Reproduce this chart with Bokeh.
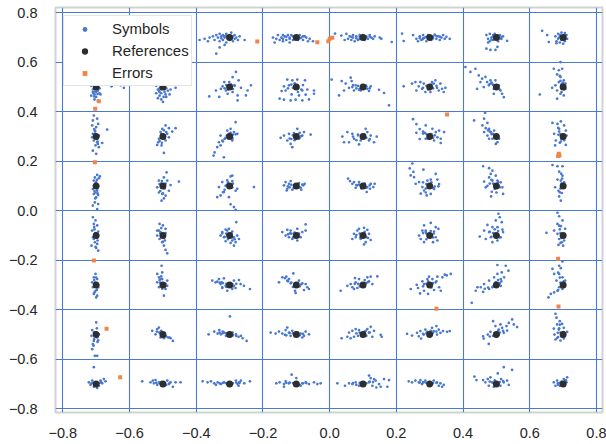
from bokeh.plotting import figure
from bokeh.models import (ColumnDataSource, FixedTicker, CustomJSTickFormatter,
                          Legend, LegendItem, Range1d)
from bokeh.embed import file_html
from bokeh.resources import INLINE

# reference constellation levels (64-QAM)
levels = [-0.7, -0.5, -0.3, -0.1, 0.1, 0.3, 0.5, 0.7]
tick_values = [-0.8, -0.6, -0.4, -0.2, 0.0, 0.2, 0.4, 0.6, 0.8]

# received symbols: offsets (in hundredths) from each reference point,
# one string per column (x = -0.7 ... 0.7), one list per row (y = 0.7 ... -0.7)
row_p07 = [
    "-1,2 0,1 -0.5,-1 0.5,-2 0,3 -1,-3 1,0 0,-4",
    "-2,0.5 -1,-1 1,1 2,-0.5 0,-2 -1.5,1.5 1,-1.5 0.5,2",
    "-9,-1 -7.5,-0.5 -6.5,-1.5 -6,0 -5,0.5 -4.5,-1 -4,1 -3.5,0 -3,-1.5 -3,1.5 -2.5,0.5 -2,-1 -2,1 -1.5,0 -1,-2 -1,1.5 0,1 0,-1 1,0.5 1,-1.5 1.5,1 2,0 2.5,-1 3,0.5 4.5,-1 -4,-6.5 -3,-4 -1.5,-3 0.5,2",
    "-7,0 -6,-0.5 -5.5,1 -5,-1 -4.5,0 -4,1 -4,-1.5 -3.5,0.5 -3,-1 -2.5,1 -2,0 -2,-2 -1.5,1 -1,-1 -0.5,0.5 0.5,-1 1,1 1.5,0 2,-1 2.5,0.5 3,0 3.5,-1.5 4,-0.5 5,-1.5 -6.5,-2",
    "-8.4,1.6 -6.5,0.8 -5,1.5 -4.5,-0.5 -4,0.5 -3.5,-1 -3,0 -3,1 -2.5,-1.5 -2,0.5 -1.5,-1 -1,1 -1,-0.5 0,1 0.5,-1 1,0.5 1.5,-0.5 2,1 2.5,0 3,-0.5 5,0 5.5,-0.5 8.6,-1.8 -5.5,-1",
    "-8.3,1.6 -7.8,-1.4 -5,1 -4,-0.5 -3.5,-1.5 -3,0.5 -2.5,-1 -2,1 -1.5,0 -1,-1.5 -0.5,1 0.5,-1 1,0.5 1.5,1.2 2,-0.5 2.5,0.5 3,-1 3.5,0 4,1 4.5,-0.5 5,0.3 6,-0.5 -2,-0.3 0,0.3",
    "-3,1 -2.5,-0.5 -2,1.5 -2,-1.5 -1.5,0 -1,1 -1,-1 -0.5,1.5 0.5,-1.5 1,1 1.5,-0.5 2,0.5 3.2,-1.3 -3,-4.5 -1.8,-5 -0.3,-5 0.3,-3.8 -2.5,-2 0.5,0.8",
    "-6.3,2.7 -4.8,1 -4.3,-1.8 -2.3,0.5 -2,-1.5 -1.5,1.5 -1.5,-0.5 -1,1 -1,-2 -0.5,2 0.5,-1.5 1,1 1.2,-0.5 0.5,1.8 -2,-2.3 0,-2.5",
]
row_p05 = [
    "-1.5,0.5 -1,-1 -1,-2 -0.5,-3 0.5,-1.5 1,-0.5 1,-2.5 -1.5,-3.5 0,-4 -0.5,-5 0.5,-5.5 1.3,-3 0,1.5 -0.5,3 0.5,4 -1,5 4.6,0.3 7.3,0.7 8.3,-0.3 0,-2 -0.8,-2.5",
    "-2,0.5 -1.5,-1 -1,-2 -1,-3.5 -0.5,-1 0.5,-2 1,-0.5 1.5,-1.5 2,-3 -1.5,-4.5 -0.5,-5 0,-6 1,-4 3.8,-0.3 -2,-2.5 0.5,0.5 1.5,1 2.3,-1",
    "1.9,6.1 0.9,4 2.7,2.7 -1.6,2 -2.6,-0.7 -3.1,-4 -6.1,-3.8 5.4,-1.4 6.4,0.7 4.9,-3.4 2.4,-3.4 0.9,-2 -1.1,-1.4 -2.1,0.3 1.4,0.7 -0.6,-2.7 3.4,-0.3 -4.1,-1.4 2.4,-5.4 -0.1,2",
    "-2.7,3 -1.2,2.7 0.3,3 2.6,2.7 -3.7,0.3 -2.2,0.7 -4.4,-1.6 -3.2,-1.4 1.8,-1.4 3.3,-1 5.3,-1.4 5.3,-2.7 -5,-4.7 -3.7,-5.1 -1.7,-5.4 -0.2,-5.1 1.8,-5.4 3.8,-5 -1.4,-3 0.8,-3.4 2.8,-3.1 -1,-0.3",
    "-9.4,3 -6.4,2.4 -5.2,1.4 -3.7,3.8 -3.4,2.4 -5.7,-1.4 -7.2,-3.4 -4.2,-0.3 -2.7,-1.4 -2.2,0.7 -1.2,-1.1 1.3,-0.7 2.3,0.3 1.8,-1.6 4.8,-1.1 6.3,-2.4 7.8,-7.4 -3.2,0 -0.7,-1.4 0.8,0.7",
    "-7.8,0.3 -5.3,1.4 -4.3,2 -4,-1.4 -2.8,2 -2.3,-0.7 -1.8,1.4 -1.3,-2 1.2,1.4 1.7,2.7 2.2,-0.3 2.7,-1.4 3.2,1.4 3.7,-0.7 4.7,-0.3 0.2,-2 -3.3,0.3 0.7,2 4.2,-2",
    "-9.3,8.1 -7.8,6.1 -6.3,7.4 -5.3,4.7 -4.3,3.4 -4.8,2 -3.3,4.1 -2.8,2 -2.3,0.7 -1.8,2.7 -1.3,1.4 -0.8,-0.7 0.7,0.7 1.2,-1.4 1.7,-2.7 2.2,-4.1 -5.8,-0.7 -0.8,-2.7 -3.8,0 -0.3,2.7",
    "-0.8,10.1 -2.8,7.4 -1.3,6.8 -0.3,7.4 -1.8,5.1 -0.8,4.1 0.2,2.7 -1.3,2 -2.3,0.7 -3.3,-0.3 0.7,-0.7 -1.8,-1.4 -0.8,-2.7 0.2,-3.4 -1.8,-4.7 -7,-3 -0.3,1.4 0.7,1.4",
]
row_p03 = [
    "-0.7,8.5 -1,6.5 0.3,7.2 -1.2,4.5 0,3.8 -0.4,2.4 -1,1.1 0.8,0.4 -0.7,-1.6 0.3,-2.3 -0.2,-3.6 0.8,-4.3 -1,-5.7 0,-7 3.3,2.8 1.8,-2.6 -1.2,-0.3 0.6,5.1",
    "0.8,4.5 -0.2,3.1 1.8,3.4 2.8,2 3.8,3.4 -0.7,1.8 1.3,1.1 -1.2,-0.9 0.8,-1.6 -1.7,-3.4 -0.4,-3.6 0.3,-6.6 -1.4,-2.3 1.8,-0.3",
    "1.8,5.8 0.3,3.1 -0.7,2.4 1.3,1.8 2.3,1.1 -1.2,-0.5 -2.2,-1.6 -3.2,-2.3 -2.7,-3.6 -3.7,-4.3 -4.5,-6.4 -1.7,-8.4 0.8,-1.6 -0.2,1.1 -2.7,0.4 -4.8,-7.7 1.8,0.9 0.8,-0.9",
    "-4.7,-0.5 -3.7,0.4 -2.7,-1.6 -1.7,-3 -1.2,-4.3 0.8,-0.9 1.8,0.4 2.3,1.8 4.3,0.8 -0.7,1.4 -2.2,1.1 -1.5,-1 1,1.5 0.3,3.1",
    "-6.2,0 -5.7,-2.3 -4.2,-2.3 -4.7,1.8 -3.2,1.1 -2.7,-0.9 -1.2,-3.2 1.3,1.8 2.3,0.4 3.3,-2.3 1.8,-1.6 -0.7,-1.6 4.1,0 0.8,3.1 -1.5,0.8",
    "-1.2,4.5 0.8,3.1 1.8,1.8 2.8,2.4 4.3,1.8 2.3,-0.3 3.3,-0.9 1.3,-1.6 3.3,-2.6 -1.2,-0.9 -5,7 -4,5 -3,3 -2,2 -3,-1 -4,1.5 -1.5,1.5",
    "-3.4,9.6 -6.7,6.5 -3.7,7.2 -2.7,5.5 -4.2,4.5 -3.2,3.4 -2.2,3.1 -1.7,1.8 -1.2,1.1 -0.7,2.4 -2.7,0.4 -1.2,-0.9 0.3,-2.3 -0.2,-3 0.8,-0.9 -3.7,1.8 -2.2,-0.9",
    "-3.2,5.5 -1.7,5.1 -0.7,6.1 0.3,4.5 -1.2,3.1 0.8,2.4 -2.7,1.1 -1.4,0.7 1,0.4 -2.2,-1.6 -0.7,-2 -2.4,-3.6 0.8,-3.4 -0.2,-0.9",
]
row_p01 = [
    "0.3,4.5 -0.4,3.5 0.8,3.1 -0.7,2.2 0,1.5 -1,-1.2 0.3,-1.9 -0.7,-3.2 0,-4.6 -0.4,-6.6 0.6,-7.3 -1,-7.9 0.3,-9.3 -0.2,-2.6 0.6,-3.6 -0.7,0.1 1.1,3.9",
    "1.1,5.5 0.3,3.5 -1.2,2.2 1.3,2.2 2.3,0.4 4.8,1.8 -1.7,-0.5 -1.2,-2.6 -0.2,-3.2 0.8,-3.9 -0.4,-5.9 0.3,-5 1.8,-1.9 -1,0.8",
    "0.3,3.9 -0.7,2.3 -2.2,1.6 -3.2,-0.4 -1.7,-2.4 -2.7,-3.8 -3.7,-4.5 -0.2,-4.5 2.3,-1.1 0.3,-7.4 1.3,-8.5 1.8,-9.6 7.3,-0.4 0.8,2 -1.2,0.1 1.8,-1.9 0.8,4.2",
    "-3.7,0.3 -3.2,1.6 -2.7,-1.1 -2.2,0.9 -1.7,2 -1.2,-1.5 0.8,1.2 1.3,-0.7 2.1,0.3 2.5,0.9 -0.7,0.3 -2.5,-0.1 1.5,-1.5 -2.9,-1.8",
    "-4.5,3 -3.9,2 -3.2,0.9 -2.7,1.6 -1.7,0.3 -2.2,-0.7 1.1,-2.4 2.3,0.9 3.1,-0.4 3.5,0.9 2.1,-1.1 -1.2,1.6 1.3,-0.4",
    "1.8,4.9 0.3,2.6 2.3,2.6 2.8,0.8 2.6,-0.1 1.3,-1.2 0.3,-3.2 -1.2,-2.6 -0.7,2.2 -5.2,9.1 -6,7.1 -4.9,5.7 -5.7,4.3 -1.9,6.6 -4.2,0.9 -3.2,1.6 -2.2,-0.4 -1.7,-1.8 -2.7,-3.1 -0.9,-3.8 -4.7,3.6",
    "-4,8 -2.2,7.2 -1.2,6.2 -1.7,4.9 -2.2,3.5 -0.2,4.2 -3.7,1.8 -2.7,0.1 -1.2,2.2 1.3,1.5 1.8,-0.5 -1.4,-2.3 0,-2.6 2,-3.2 -1.6,-4.2 -3.2,-0.5 0.3,2.2",
    "-3.2,8.5 -1.7,8 -0.2,8 -1.2,5.8 -0.2,4.2 -1.7,2.6 -0.7,2.2 -2.4,-0.5 -1.4,-1.9 -0.4,-2.8 -1.2,-4.2 -0.7,-5.9 0.3,1.5",
]
row_m01 = [
    "-1,7.4 -0.2,6.1 -0.7,4.7 0.3,4.1 -1.2,2 0.6,1.6 -0.7,-1.4 -1.4,-4.1 0.3,-3.4 -0.2,-4.6 0.6,-6.1 -0.4,-2.7 -1,-0.7",
    "-1,4.7 0,4.1 -1.7,2 -1.7,0 -1,-1.4 -0.2,-2.7 0.6,-2 0.3,-4.1 0.8,-5.8 1.3,-7.2 -0.7,1.4 0.8,2.7",
    "-2.2,1.4 -1.2,2.4 -0.2,2.7 0.8,1.6 -1.7,-0.7 1.3,-0.7 0.8,-2 1.8,-2.7 0.3,-3 -2.7,0 2,5.4 -0.7,2 -2.2,0.9 -1.2,-2.3 1.3,-4.1 2.8,-1.4 2.3,0",
    "-4.2,1.4 -2.7,2.3 -1.7,2 -3.2,0 -2.2,-0.7 -1.2,-1.4 0.3,-2 1.3,-0.7 1.8,1.4 2.8,2 2.8,4.5 0.3,2.7 -0.7,0.7 -1.9,0.9",
    "-2.7,0.7 -1.7,2 -1.2,2.7 0.3,3.1 1.3,2.3 1.8,0.7 2.3,-1.8 0.8,-2.7 0.3,-3.6 -2.2,-0.7 -3.2,-1.4 -0.7,-1.4",
    "0.3,5.1 1.8,3.4 2.6,2.7 1.3,1.6 1.8,-0.7 2.3,-2 1,-2.7 -1.2,1.4 -1.7,4.1 -2.2,2 -2.7,-1.4 -1.7,-2.7 -1.2,2 -3.2,0",
    "0.6,8.8 1,7.4 -0.2,6.1 1.6,5.4 -2.7,4.3 -1.2,3.4 0.3,3.4 1.8,2.4 -3.7,2 -2.2,1.4 -1.7,-0.7 -3.2,-1.4 -5,-0.4 -1.2,-2.7 0.3,-2 1.3,-0.7 2,1.4 -0.7,0.7",
    "-1.7,9.2 -1.2,7.8 -0.2,6.1 -1.7,4.7 -0.7,3.8 -2.7,2 -5,1.1 -1.7,0.7 -1.2,-1.4 -0.4,-2.7 -1.4,-3.8 0,-4.1 0.6,2.7",
]
row_m03 = [
    "-0.2,4.5 -0.7,3.1 0.3,2.4 -1.2,1.1 -1,-0.9 -0.2,-2.3 -0.7,-3.6 0.3,-4.3 0,-5 0.6,-0.9",
    "-0.4,7.8 -0.2,5.1 -1.7,4.5 -1.2,3.1 -0.2,2.4 1.3,1.8 -1.7,1.1 -1.2,-0.9 0.8,-1.6 1.3,-0.3 0.3,-4.3 -0.7,2.4",
    "-5.2,1.8 -4.2,1.1 -3.2,2.4 -2.4,1.1 -1.7,2.7 -1.2,-0.3 -2.2,-0.9 -2.7,0.4 -0.7,-2.3 0.8,-1.6 1.3,-0.3 -3.7,1.4 1.3,1.8 2.8,2 3.3,0.4 4.3,-0.3 6.1,-1.6 1.8,-1.2 -2.2,-1.2 0.8,0.4",
    "-4.2,3.1 -3,3.4 -0.9,4.7 -5.2,1.1 -2.7,1.8 -1.7,0.7 0.8,1.8 1.8,0.7 2.8,0.4 3.3,-0.9 3.8,-1.6 2.3,-2 -0.4,-2.3 -0.2,-3.2 -2.2,2.4 -3.4,2.8",
    "-6.7,-2.3 -4.7,-0.3 -3.7,0.4 -3.2,-0.9 -2.4,2.8 -2.2,1.1 -1.2,2.4 1.3,3.1 1.8,1.5 2.8,0.4 4.3,3.5 2.3,3.4 -1.7,-1.2 -2.7,-1.6 -0.7,0.4",
    "-5.7,-1.6 -3.9,0.1 -3.5,-1.2 -2.9,-3.4 -2.2,1.5 -1.7,0.4 -0.7,2.4 -0.2,3.4 0.8,2.4 1.8,1.1 2.3,3.4 3.8,3.1 4.5,4.2 5.1,3.9 6.3,4.5 2.8,-0.9 3.3,-2.3 1.3,-2 -0.5,-3.6 -1.7,-2.3",
    "0.3,8.1 2.8,7.8 3.6,5.8 1.6,5.1 0.3,4.5 -0.7,3.1 1.3,2.4 2.3,3.1 -2.2,1.8 -3.7,0.4 -4.7,-0.9 -5.7,-0.9 -6.2,-2.3 -4,-2.8 -2.2,-1.6 -1.2,-0.9 1.3,-0.3 -7.4,-7.2 -0.2,1.1",
    "-0.2,9.5 -1.2,7.8 -0.7,6.8 -3.2,6.5 -2.7,4.5 -1.2,4.5 -0.2,3.1 -2,1.8 0.6,1.8 -1.2,-0.9 -1.7,-2.3 -2.7,-3 -3.7,-3.6 -4.4,-5 -0.2,-1.6 0.3,0.4",
]
row_m05 = [
    "0,4.9 -1.2,1.8 -0.7,0.8 -1.4,-0.5 0.3,-1.2 -0.7,-2.6 0.6,-2.3 -1,-3.9 -1.2,-5.9 -0.4,-8.6 0.3,-8.6 0.8,0.1",
    "-3.2,1.5 -1.7,2.2 -1,0.8 -2.2,0.1 -0.7,-1.2 0.8,-0.5 1.6,-1.2 2.3,-1.5 3,-2.6 -1.2,2.8 0.3,-1.5",
    "0.1,7.3 -6.3,0.1 -4.6,1.2 -3.6,0.4 -2.6,0.1 -2.1,1.2 -1.1,-0.5 0.9,0.8 1.9,0.1 2.7,-0.9 3.4,-0.5 3.9,-1.5 5.1,-2.6 -3.1,1.8 -1.6,0.8",
    "-7.7,0.8 -6.2,0.4 -5.2,1.2 -4.2,0.4 -3.2,1.8 -2.7,2.8 -2.2,0.8 -1.2,1.5 1.3,0.4 2.3,-0.5 2.8,1.2 3.8,0.1 1.8,-1.2 -3.4,-0.1 -1.7,-0.5",
    "-6.4,-1.5 -4.7,-0.9 -4.2,0.8 -3.2,1.5 -2.2,2.2 -1.2,1.8 1.3,2.2 2.3,3.1 1.8,0.8 2.8,-0.9 5.3,-0.1 5.6,-0.9 -2.7,-0.9 -3.7,-1.5 0.8,1.5 3.3,1.5",
    "-6.8,0.3 -5.3,-0.4 -3.8,0.7 -2.8,1.4 -2.6,-1.6 -1.8,0 -1.3,2 -0.8,1.1 0.7,2.7 1.2,1.4 2,3.4 2.7,2 3.2,0.7 4,1.4 5.2,1.1 6,1.4 2.2,0 -3.3,-0.7",
    "-4,-0.7 -3.8,-1.6 -2.3,-3.8 -2.6,0 -1.8,1.1 -1,5.4 -0.3,3.4 0.7,2 1.2,4.1 1.7,2.7 2.2,0.7 3,3.4 3.7,4.7 4.7,6.1 5.2,4.1 6.2,3 3.2,1.6 0.7,0",
    "-2.3,8.4 -2,6.8 -1,5.4 -1.8,4.1 -0.3,4.3 -2.8,2.4 -1.3,2 0.2,2.7 1.2,1.1 -2.6,0 -1.8,-1.4 -0.8,-2.4 0.2,-1.6 -2.3,-2 -1.6,0.7",
]
row_m07 = [
    "-0.7,6.8 -2.2,0.7 -1.2,1.4 -1.7,-0.3 1.3,1.4 2.3,2 2.8,1.1 1.8,0.3 -0.7,-1.1 0.8,-0.7 0.3,-1.6",
    "-6.2,1.1 -3.7,0.7 -3,1.4 -2.2,1.6 -1.2,0.7 -1.7,-0.3 1.3,1.4 2.3,0.7 3,-1.1 3.8,0.7 5.3,0.7 1.8,0 -2.7,0.3",
    "-8.1,1.1 -6.6,0.7 -5.6,1.1 -4.6,0.3 -3.6,0.7 -2.6,0 -1.6,0.7 1.9,1.4 2.4,0 2.9,0.7 3.4,1.4 4.4,0.3 6.1,1.1 2.7,-0.7 -4.1,-0.3",
    "-6,0.3 -5,0.7 -3.7,0 -3.2,1.1 -2.2,0.3 -1.4,3.8 0,2.4 1.8,0.3 2.8,0.7 3.8,0 5.3,0.7 6.3,0 7.3,0.3 1.3,-0.7 -3.7,-1.1",
    "-7.7,0.3 -5.4,-0.7 -4.2,0.3 -3.2,0 -2.2,0.7 -1.2,-0.7 1.8,3.4 2.3,2.4 1.8,0.7 3.3,2 3.8,1.4 4.8,0 5.3,-1.1 6.3,2 7.3,-1.1 7.8,1.6 2.8,-0.7 4,-1.4",
    "-6.3,1.1 -5.3,0.7 -4.3,1.4 -3.3,0.7 -2.8,1.6 -1.8,0.7 -1.3,1.4 1.2,1.4 2.2,0.7 3.2,0.3 3.7,-1.1 4.2,-0.3 2.7,-0.7 -2.3,0",
    "-6.6,3 -6,1.6 -4,1.6 -3.3,0.7 -2.6,2 -1.8,2.7 -1.3,0.7 -2.3,-0.7 0.4,4.3 2.2,6.8 4.7,5.7 1.4,2 2.2,0.7 3.2,1.4 3.7,-0.3 1.2,-0.7 -0.8,-1.1",
    "-2.8,0.7 -1.8,1.4 -1,-0.7 -2.3,-0.7 0.2,2 0.7,1.4 1.2,2.7 1,0.7 -1.6,0.3",
]

# dense cores of each cluster, read around the reference dots
core_p07 = ["", "",
    "-1.5,0.5 -0.5,-0.5 0.5,0 1.5,-0.5 -2.5,-0.3 -1,0.8",
    "-3,0.3 -2,-0.5 -1,0.5 1,-0.3 2,0.5 -4,-0.5",
    "-2,-0.3 -1,0.3 1,-0.2 2,0.4 -3.5,0.3 3.5,0.5",
    "-1,0.3 1,-0.3 -2,-0.6 2,0.6 -3,-0.2 3,0.4",
    "-1,0.4 1,-0.4 -1.5,-0.8 0.5,0.6 -0.5,-0.5 1.5,0.3",
    "-0.8,0.5 0.8,-0.5 -0.5,-1 0.5,1 -1.2,0 0.3,-0.3"]
core_p05 = [
    "-0.5,-0.8 0.5,-1 -0.3,-1.8 0.4,-2.8 -0.6,-3.8 0.2,-0.3",
    "-1,-0.5 0.5,-1 -0.5,-2.5 0.8,-3 -1.2,-1.5 0.2,-4",
    "-1,0.8 1,-0.8 0.5,1 -0.5,-1 1.5,0.5 -1.5,-0.5",
    "-1.5,1 1.5,-1 -2.5,-0.5 2,0.8 0.5,-2 -0.5,1.5",
    "-1.5,0.5 -2,-0.5 1,0.3 -1,-0.8 2,-0.5 -3,0.8",
    "-1,0.5 1,-0.5 -2,-0.3 2,0.5 0.5,1 -0.5,-1",
    "-1,0.8 0.5,-0.5 -1.5,1.8 1,-1 -2,1.2 -0.5,0.3",
    "-0.5,1 0.3,-1 -0.8,2.5 -0.5,-2 -1,4.5 0,1.8"]
core_p03 = [
    "-0.5,1 0.3,-1 -0.3,2 0.4,-2 -0.6,3 0.5,-3",
    "-0.5,1 0.5,-0.8 1,1.8 -1,-1.8 0.3,2.5 -0.3,-2.5",
    "-0.8,0.5 0.8,-0.5 -1.5,-1 1,0.8 -2,-2 0.3,1.5",
    "-1,0.5 1,-0.5 -2,-0.8 0.5,0.8 -0.5,-1.5 1.5,0.2",
    "-1.5,0.5 1,-0.5 -3,0 2,-1 -2,-1.5 0.5,0.8",
    "-1,1 1,-0.5 -2,1.2 0.5,1 1.5,0.5 -0.5,-0.8",
    "-1,1 -0.5,0.3 -2,2 -1.5,1 -2.5,2.5 0.3,-0.5",
    "-0.8,1 -0.5,-1 -1.2,2 0.3,-1.5 -1.5,3.5 -1,-2.5"]
core_p01 = [
    "-0.3,1 0.3,-1 -0.5,-2 0.4,-3 -0.3,-5 0.2,2.5",
    "-0.5,1 0.5,-1 -0.8,-2 0.8,1 0,-3 -0.3,2",
    "-0.8,0.5 0.8,-0.5 -1.5,-1.5 1,1 -2,-2.5 -0.5,1.5",
    "-1.5,0.5 1,-0.5 -2,-0.5 1.8,0.6 -0.8,-0.8 0.5,0.8",
    "-1.2,0.6 1,-0.6 -2,0.4 2,0.3 -0.5,-1 0.5,1",
    "-1,0.8 1,-0.8 -2,1.5 0.5,1.5 -1.2,-1 1.5,-0.2",
    "-1,1 1,-0.5 -1.5,2.5 -0.5,-1.2 -2,1 0.5,1.5",
    "-0.5,1 -0.8,-1 -0.3,3 -1,-2.5 -0.6,5 0.2,-0.4"]
core_m01 = [
    "-0.3,1 0.3,-1 -0.5,2.5 0.4,-2 -0.6,3.5 0,-5",
    "-0.8,1 0.3,-1 -1.2,2 0,-2.5 -0.5,3 0.8,1",
    "-1,0.8 1,-0.8 -1.5,-0.5 0.5,1 1.5,-1.5 -0.5,-1.5",
    "-1.5,0.8 1,-0.5 -2.5,0.5 -0.5,1.2 0.8,0.8 -1,-0.8",
    "-1,0.8 1,-0.6 -2,0.2 0.5,1.5 -0.8,-0.8 1.5,-1",
    "-1,0.8 1,-0.8 -2,1 1.2,0.8 -1,-1.5 0.3,1.8",
    "-1,1 1,-0.8 -2,1.5 0.5,1.8 -1.5,-0.5 -0.5,2.5",
    "-0.8,1 -0.5,-1 -1,2.5 0.3,-2 -1.2,4 -0.8,-3"]
core_m03 = [
    "-0.3,1 0.3,-1 -0.6,2 0.2,-2 -0.5,-3 0,3",
    "-0.8,1 0.5,-0.8 -1,2 0.8,0.5 -0.5,3.5 -0.2,-1.5",
    "-1,0.5 1,-0.5 -2,0.8 2,0.5 -3,1 -1,-0.8",
    "-1.5,1 1,-0.5 -2.5,1.5 1.5,0.3 -1,-0.8 0.5,0.8",
    "-1.5,0.5 1,0.8 -1,-0.5 1.5,1.2 -2.5,0.5 0.5,2",
    "-1,0.5 1,0.8 -2,-0.5 2,1.5 0.5,-1 -0.5,1.5",
    "-1,-0.5 1,0.8 -2.5,-1 0.5,2 -3.5,-1.5 1.5,1.5",
    "-0.8,1 -0.5,-1 -1,3 -1.5,-2 -1.5,5 0.2,1.5"]
core_m05 = [
    "-0.5,1 0.3,-0.8 -0.6,-1.8 0.4,-3 -0.8,-4.5 0.2,2.5",
    "-1,0.8 1,-0.8 -1.8,1.2 0.5,-0.3 2,-1.2 -0.5,1.5",
    "-1,0.5 1,-0.3 -2,0.6 2,-0.6 -3,0.8 0,0.8",
    "-1,0.5 1,-0.3 -2,0.6 2,0.3 -3,-0.3 0.5,0.8",
    "-1,0.8 1,-0.5 -2,0.5 2,0.8 -1.5,-0.5 0.5,1.2",
    "-1,0.5 1,0.8 -2,0.3 2,1.2 0.3,1.5 -0.5,-0.5",
    "-1,-0.5 1,0.8 -2,-0.8 2,1.5 0.5,1.5 -0.5,0.6",
    "-0.8,0.8 -0.5,-0.8 -1.2,2.5 -1.5,-1 -1,4 0.2,1"]
core_m07 = [
    "-1,0.5 1,0.5 -0.5,-0.5 1.5,0.8 0.5,0.3 -1.5,0.2",
    "-1,0.4 1,-0.3 -2,0.5 2,0.4 -0.5,0.8 0.5,-0.6",
    "-1,0.3 1,0.3 -2,0.5 2,0.6 -3,0.3 3,0.5",
    "-1,0.4 1,-0.3 -2,0.6 2,0.3 -3,0.5 3,0.4",
    "-1,0.5 1,0.3 -2,-0.3 2,1 3,0.8 -3,0.4",
    "-1,0.5 1,0.4 -2,0.8 2,0.5 -3,0.6 0,0.8",
    "-1,0.5 1,0.8 -2,1 2,1.2 0.5,-0.5 -0.5,1.5",
    "-1,0.5 0.5,0.8 -1.5,-0.3 0.8,1.5 -0.5,1 0,-0.5"]

symbol_rows = [row_p07, row_p05, row_p03, row_p01, row_m01, row_m03, row_m05, row_m07]
core_rows = [core_p07, core_p05, core_p03, core_p01, core_m01, core_m03, core_m05, core_m07]
row_levels = [0.7, 0.5, 0.3, 0.1, -0.1, -0.3, -0.5, -0.7]

# symbols detected in error
error_x = [-0.217, -0.037, -0.004, 0.0, 0.008, -0.692, -0.703, -0.704, 0.352,
           0.687, 0.689, 0.685, -0.707, 0.685, 0.320, 0.686, -0.669, -0.628]
error_y = [0.684, 0.681, 0.685, 0.695, 0.699, 0.443, 0.412, 0.196, 0.389,
           0.230, 0.223, 0.221, -0.201, -0.194, -0.396, -0.387, -0.477, -0.673]

BLUE = "#4878d0"
ORANGE = "#ee854a"
DARK = "#2e2e2e"
GRID = "#4a7bd4"
TEXT = "#262626"
FONT = "Liberation Sans"

sym_x, sym_y = [], []
for table in (symbol_rows, core_rows):
    for ry, row in zip(row_levels, table):
        for rx, cell in zip(levels, row):
            for pair in cell.split():
                dx, dy = pair.split(",")
                sym_x.append(rx + float(dx) / 100.0)
                sym_y.append(ry + float(dy) / 100.0)

ref_x = [x for y in row_levels for x in levels]
ref_y = [y for y in row_levels for x in levels]

p = figure(width=606, height=444, output_backend="svg", toolbar_location=None,
           x_range=Range1d(-0.822, 0.818), y_range=Range1d(-0.815, 0.8214),
           min_border_left=55, min_border_right=4, min_border_top=7,
           min_border_bottom=32)
p.background_fill_color = "white"
p.border_fill_color = "white"
p.outline_line_color = "#d2d2d2"
p.outline_line_width = 2

ticker = FixedTicker(ticks=tick_values)
fmt = CustomJSTickFormatter(code="return (tick < -1e-9 ? '\\u2212' : '') + Math.abs(tick).toFixed(1);")
for ax in (p.xaxis[0], p.yaxis[0]):
    ax.ticker = ticker
    ax.formatter = fmt
    ax.axis_line_color = None
    ax.major_tick_line_color = None
    ax.minor_tick_line_color = None
    ax.major_label_text_font = FONT
    ax.major_label_text_font_size = "14.5px"
    ax.major_label_text_color = TEXT
p.xaxis.major_label_standoff = 9
p.yaxis.major_label_standoff = 12

for g in (p.xgrid[0], p.ygrid[0]):
    g.ticker = ticker
    g.grid_line_color = GRID
    g.grid_line_width = 1.1

src_sym = ColumnDataSource(dict(x=sym_x, y=sym_y))
src_ref = ColumnDataSource(dict(x=ref_x, y=ref_y))
src_err = ColumnDataSource(dict(x=error_x, y=error_y))

r_sym = p.scatter("x", "y", source=src_sym, marker="circle", size=2.7,
                  fill_color=BLUE, line_color=None)
r_ref = p.scatter("x", "y", source=src_ref, marker="circle", size=5.5,
                  fill_color=DARK, line_color=DARK, line_width=1.5)
r_err = p.scatter("x", "y", source=src_err, marker="square", size=4,
                  fill_color=ORANGE, line_color=None)

legend = Legend(items=[LegendItem(label="Symbols", renderers=[r_sym]),
                       LegendItem(label="References", renderers=[r_ref]),
                       LegendItem(label="Errors", renderers=[r_err])],
                location="top_left", margin=8, padding=2, spacing=1,
                label_height=21, glyph_height=12, glyph_width=37,
                label_standoff=9, label_text_font=FONT,
                label_text_font_size="15px", label_text_color=TEXT,
                border_line_color="#cccccc", border_line_width=1,
                background_fill_color="white", background_fill_alpha=1.0)
p.add_layout(legend)

open("out.html", "w").write(file_html(p, INLINE))
